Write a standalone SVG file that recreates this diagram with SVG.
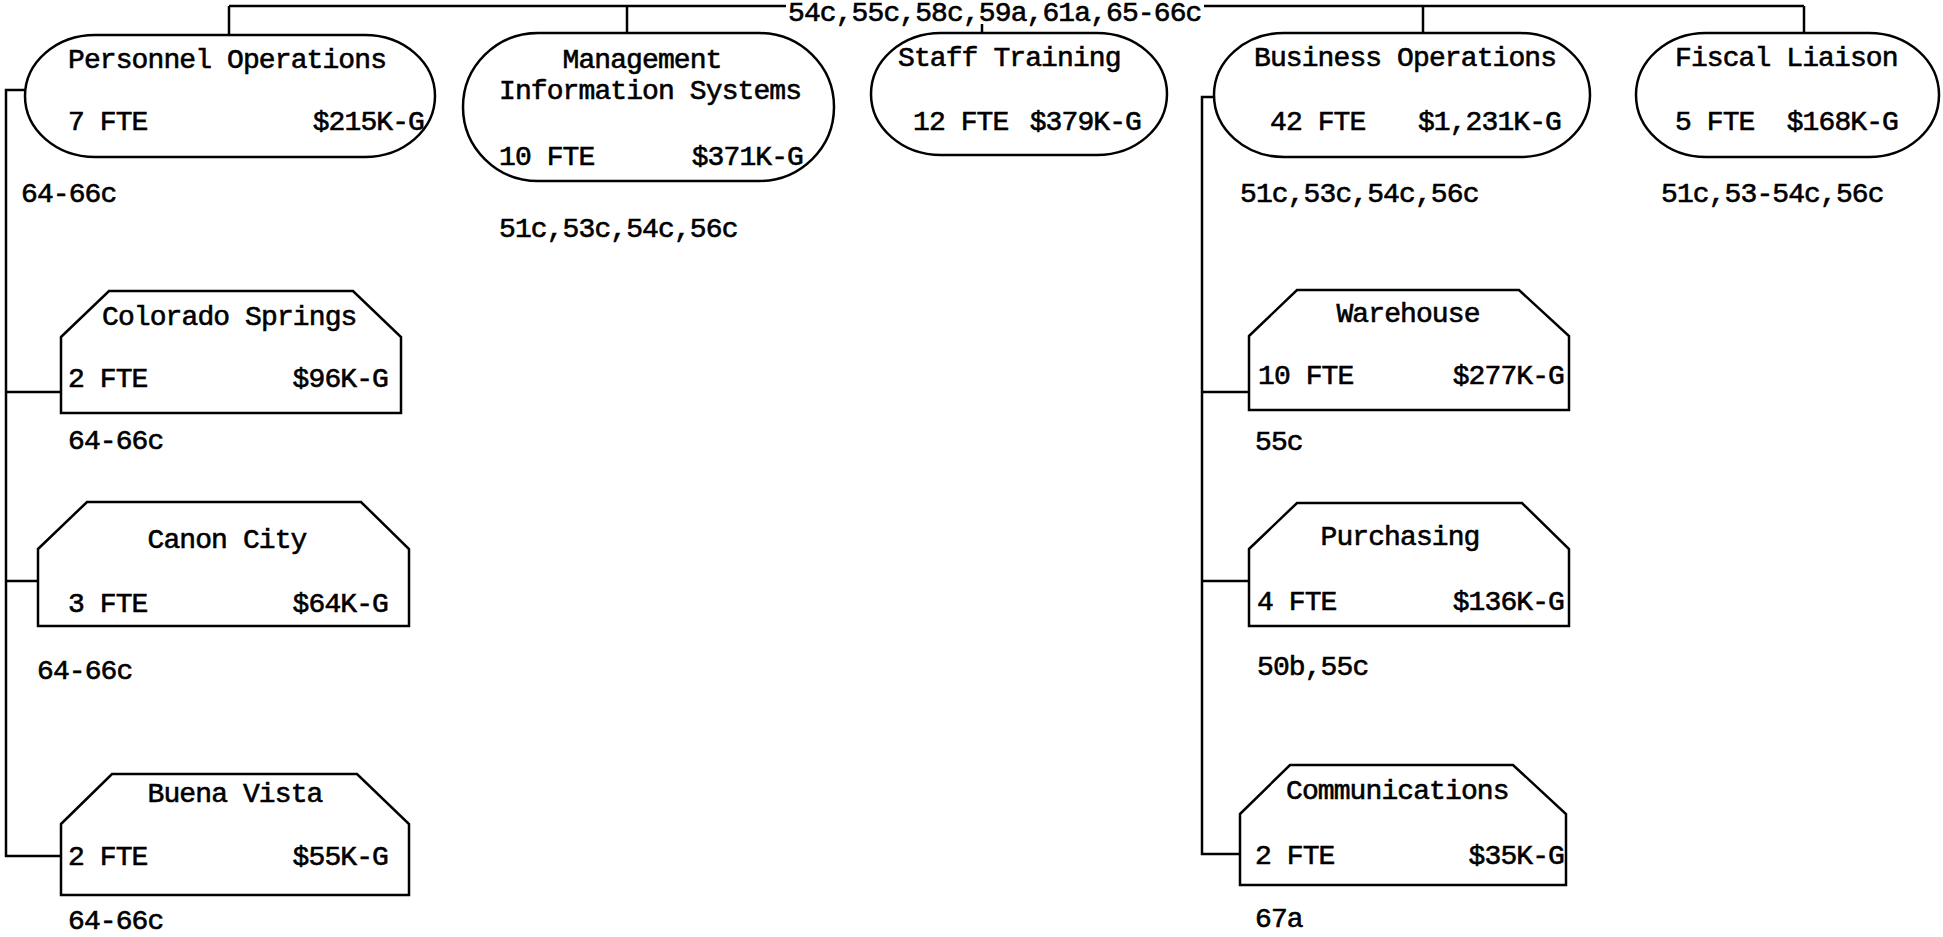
<svg xmlns="http://www.w3.org/2000/svg" width="1943" height="937" viewBox="0 0 1943 937">
<style>
.t{font-family:"Liberation Mono","DejaVu Sans Mono",monospace;font-size:28px;letter-spacing:-0.9px;fill:#000;stroke:#000;stroke-width:0.6}
.e{text-anchor:end}
.m{text-anchor:middle}
.box{fill:#fff;stroke:#000;stroke-width:2.5}
.ln{fill:none;stroke:#000;stroke-width:2.5}
</style>
<rect width="1943" height="937" fill="#fff"/>
<g id="connectors">
<path class="ln" d="M229,6 H786 M1204,6 H1804"/>
<path class="ln" d="M229,6 V35 M627,6 V33 M982,24 V33 M1423,6 V33 M1804,6 V33"/>
<path class="ln" d="M26,90 H6 V856 H61 M6,392 H61 M6,581 H38"/>
<path class="ln" d="M1214,97 H1202 V854 H1240 M1202,392 H1249 M1202,581 H1249"/>
</g>
<text class="t" x="788" y="21">54c,55c,58c,59a,61a,65-66c</text>
<g id="personnel-operations">
<rect class="box" x="25" y="35" width="410" height="122" rx="70" ry="61"/>
<text class="t" x="68" y="68">Personnel Operations</text>
<text class="t" x="68" y="130">7 FTE</text>
<text class="t e" x="424" y="130">$215K-G</text>
<text class="t" x="21" y="202">64-66c</text>
</g>
<g id="mis">
<rect class="box" x="463" y="33" width="371" height="148" rx="75" ry="74"/>
<text class="t m" x="642" y="68">Management</text>
<text class="t" x="499" y="99">Information Systems</text>
<text class="t" x="499" y="165">10 FTE</text>
<text class="t e" x="803" y="165">$371K-G</text>
<text class="t" x="499" y="237">51c,53c,54c,56c</text>
</g>
<g id="staff-training">
<rect class="box" x="871" y="33" width="296" height="122" rx="70" ry="61"/>
<text class="t" x="898" y="66">Staff Training</text>
<text class="t" x="913" y="130">12 FTE</text>
<text class="t e" x="1141" y="130">$379K-G</text>
</g>
<g id="business-operations">
<rect class="box" x="1214" y="33" width="376" height="124" rx="70" ry="62"/>
<text class="t" x="1254" y="66">Business Operations</text>
<text class="t" x="1270" y="130">42 FTE</text>
<text class="t e" x="1561" y="130">$1,231K-G</text>
<text class="t" x="1240" y="202">51c,53c,54c,56c</text>
</g>
<g id="fiscal-liaison">
<rect class="box" x="1636" y="33" width="303" height="124" rx="70" ry="62"/>
<text class="t" x="1675" y="66">Fiscal Liaison</text>
<text class="t" x="1675" y="130">5 FTE</text>
<text class="t e" x="1898" y="130">$168K-G</text>
<text class="t" x="1661" y="202">51c,53-54c,56c</text>
</g>
<g id="colorado-springs">
<path class="box" d="M61,337 L109,291 H353 L401,337 V413 H61 Z"/>
<text class="t" x="102" y="325">Colorado Springs</text>
<text class="t" x="68" y="387">2 FTE</text>
<text class="t e" x="388" y="387">$96K-G</text>
<text class="t" x="68" y="449">64-66c</text>
</g>
<g id="canon-city">
<path class="box" d="M38,549 L87,502 H361 L409,549 V626 H38 Z"/>
<text class="t m" x="227" y="548">Canon City</text>
<text class="t" x="68" y="612">3 FTE</text>
<text class="t e" x="388" y="612">$64K-G</text>
<text class="t" x="37" y="679">64-66c</text>
</g>
<g id="buena-vista">
<path class="box" d="M61,824 L112,774 H357 L409,824 V895 H61 Z"/>
<text class="t m" x="235" y="802">Buena Vista</text>
<text class="t" x="68" y="865">2 FTE</text>
<text class="t e" x="388" y="865">$55K-G</text>
<text class="t" x="68" y="929">64-66c</text>
</g>
<g id="warehouse">
<path class="box" d="M1249,336 L1297,290 H1519 L1569,336 V410 H1249 Z"/>
<text class="t m" x="1408" y="322">Warehouse</text>
<text class="t" x="1258" y="384">10 FTE</text>
<text class="t e" x="1564" y="384">$277K-G</text>
<text class="t" x="1255" y="450">55c</text>
</g>
<g id="purchasing">
<path class="box" d="M1249,549 L1297,503 H1522 L1569,549 V626 H1249 Z"/>
<text class="t m" x="1400" y="545">Purchasing</text>
<text class="t" x="1257" y="610">4 FTE</text>
<text class="t e" x="1564" y="610">$136K-G</text>
<text class="t" x="1257" y="675">50b,55c</text>
</g>
<g id="communications">
<path class="box" d="M1240,814 L1290,765 H1513 L1566,814 V885 H1240 Z"/>
<text class="t" x="1286" y="799">Communications</text>
<text class="t" x="1255" y="864">2 FTE</text>
<text class="t e" x="1564" y="864">$35K-G</text>
<text class="t" x="1255" y="927">67a</text>
</g>
</svg>
